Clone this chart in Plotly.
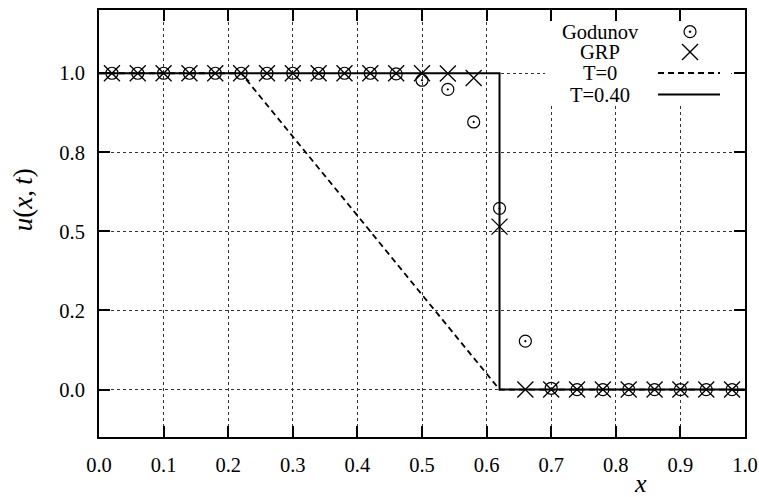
import plotly.graph_objects as go

# ---- data ----
x_pts = [0.02, 0.06, 0.10, 0.14, 0.18, 0.22, 0.26, 0.30, 0.34, 0.38, 0.42, 0.46, 0.50,
         0.54, 0.58, 0.62, 0.66, 0.70, 0.74, 0.78, 0.82, 0.86, 0.90, 0.94, 0.98]
godunov_u = [1.0, 1.0, 1.0, 1.0, 1.0, 1.0, 1.0, 1.0, 1.0, 1.0, 1.0, 0.998, 0.978,
             0.949, 0.846, 0.573, 0.153, 0.004, 0.0, 0.0, 0.0, 0.0, 0.0, 0.0, 0.0]
grp_u = [1.0, 1.0, 1.0, 1.0, 1.0, 1.0, 1.0, 1.0, 1.0, 1.0, 1.0, 1.0, 1.0,
         0.999, 0.985, 0.515, 0.0, 0.0, 0.0, 0.0, 0.0, 0.0, 0.0, 0.0, 0.0]
t0_x = [0.0, 0.22, 0.62, 1.0]
t0_u = [1.0, 1.0, 0.0, 0.0]
t40_x = [0.0, 0.62, 0.62, 1.0]
t40_u = [1.0, 1.0, 0.0, 0.0]

x_ticks = [0.0, 0.1, 0.2, 0.3, 0.4, 0.5, 0.6, 0.7, 0.8, 0.9, 1.0]
x_ticktext = ["0.0", "0.1", "0.2", "0.3", "0.4", "0.5", "0.6", "0.7", "0.8", "0.9", "1.0"]
y_ticks = [0.0, 0.25, 0.5, 0.75, 1.0]
y_ticktext = ["0.0", "0.2", "0.5", "0.8", "1.0"]

legend_names = ["Godunov", "GRP", "T=0", "T=0.40"]

FONT = "Liberation Serif"

fig = go.Figure()
fig.add_trace(go.Scatter(x=t0_x, y=t0_u, mode="lines", name="T=0",
                         line=dict(color="black", width=1.8, dash="6px,4px")))
fig.add_trace(go.Scatter(x=t40_x, y=t40_u, mode="lines", name="T=0.40",
                         line=dict(color="black", width=2)))
fig.add_trace(go.Scatter(x=x_pts, y=godunov_u, mode="markers", name="Godunov",
                         marker=dict(symbol="circle-open-dot", size=12, color="black",
                                     line=dict(width=1.2, color="black"))))
fig.add_trace(go.Scatter(x=x_pts, y=grp_u, mode="markers", name="GRP",
                         marker=dict(symbol="x-thin-open", size=16, color="black",
                                     line=dict(width=1.3, color="black"))))

# plot area pixel geometry (for legend placement)
L, R, T, B = 98.7, 745.0, 10.0, 437.0
def px(xp):
    return (xp - L) / (R - L)
def py(yp):
    return (B - yp) / (B - T)

shapes = []
# white legend box (covers grid)
shapes.append(dict(type="rect", xref="paper", yref="paper", layer="above",
                   x0=px(545), x1=px(731), y0=py(105), y1=py(21.5),
                   fillcolor="white", line=dict(width=0)))
row_y = [31.7, 52.0, 73.0, 94.5]
sym_x = 690
# Godunov symbol
shapes.append(dict(type="circle", xref="paper", yref="paper", xsizemode="pixel", ysizemode="pixel",
                   xanchor=px(sym_x), yanchor=py(row_y[0]), x0=-6, x1=6, y0=-6, y1=6,
                   line=dict(color="black", width=1.2), layer="above"))
shapes.append(dict(type="circle", xref="paper", yref="paper", xsizemode="pixel", ysizemode="pixel",
                   xanchor=px(sym_x), yanchor=py(row_y[0]), x0=-1, x1=1, y0=-1, y1=1,
                   fillcolor="black", line=dict(color="black", width=0.5), layer="above"))
# GRP symbol
for (a, b) in [(-8, 8), (8, -8)]:
    shapes.append(dict(type="line", xref="paper", yref="paper", xsizemode="pixel", ysizemode="pixel",
                       xanchor=px(sym_x), yanchor=py(row_y[1]), x0=-8, x1=8, y0=a, y1=b,
                       line=dict(color="black", width=1.3), layer="above"))
# T=0 sample
shapes.append(dict(type="line", xref="paper", yref="paper", x0=px(658), x1=px(720),
                   y0=py(row_y[2]), y1=py(row_y[2]),
                   line=dict(color="black", width=1.8, dash="6px,4px"), layer="above"))
# T=0.40 sample
shapes.append(dict(type="line", xref="paper", yref="paper", x0=px(658), x1=px(720),
                   y0=py(row_y[3]), y1=py(row_y[3]),
                   line=dict(color="black", width=2), layer="above"))

annotations = []
for name, yy in zip(legend_names, row_y):
    annotations.append(dict(text=name, xref="paper", yref="paper", x=px(600), y=py(yy),
                            xanchor="center", yanchor="middle", showarrow=False,
                            font=dict(family=FONT, size=20.5, color="black")))
annotations.append(dict(text="<i>x</i>", xref="paper", yref="paper", x=px(640), y=py(484),
                        xanchor="center", yanchor="middle", showarrow=False,
                        font=dict(family=FONT, size=26, color="black")))
annotations.append(dict(text="<i>u</i>(<i>x</i>,&#8201;<i>t</i>)", xref="paper", yref="paper",
                        x=px(23), y=py(200), textangle=-90,
                        xanchor="center", yanchor="middle", showarrow=False,
                        font=dict(family=FONT, size=27, color="black")))

axis_common = dict(showline=True, linecolor="black", linewidth=2, mirror="ticks",
                   ticks="inside", ticklen=11, tickwidth=1.5, tickcolor="black",
                   showgrid=True, gridcolor="#333333", gridwidth=1, griddash="dot",
                   zeroline=False, tickfont=dict(family=FONT, size=20.5, color="black"),
                   ticklabelstandoff=8, automargin=False)

fig.update_layout(
    width=759, height=497,
    margin=dict(l=98.7, r=14, t=10, b=60, autoexpand=False),
    paper_bgcolor="white", plot_bgcolor="white",
    showlegend=False,
    shapes=shapes, annotations=annotations,
    xaxis=dict(range=[0, 1], tickvals=x_ticks, ticktext=x_ticktext, **axis_common),
    yaxis=dict(range=[-0.15, 1.2], tickvals=y_ticks, ticktext=y_ticktext, **axis_common),
)

fig.write_html("out.html")
